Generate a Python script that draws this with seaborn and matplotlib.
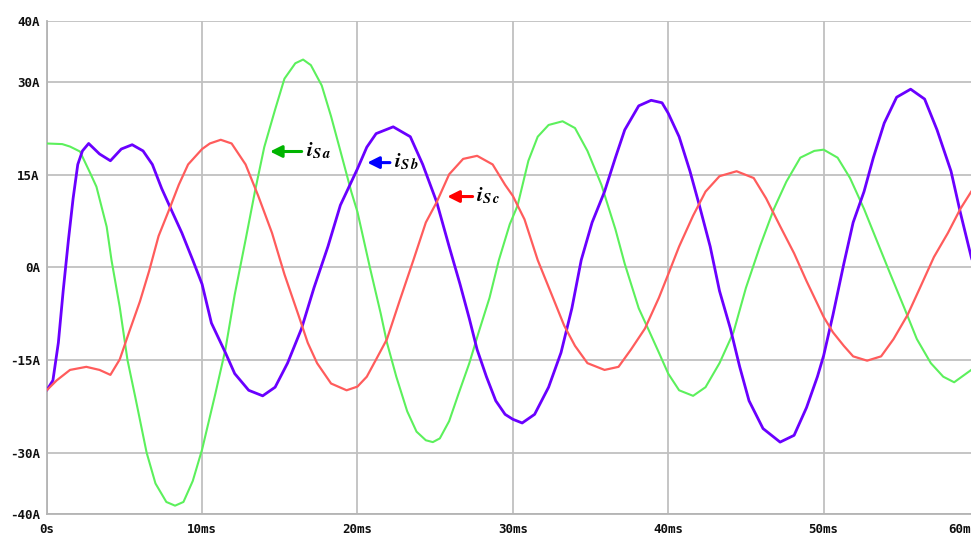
import matplotlib
matplotlib.use("Agg")
import matplotlib.pyplot as plt
import matplotlib.transforms as mtransforms
import seaborn as sns
import pandas as pd

# ---- data ----
t_a = [0.0, 1.0, 1.5, 2.14, 2.8, 3.2, 3.86, 4.17, 4.7, 5.2, 5.7, 6.43, 7.0, 7.7, 8.26, 8.8, 9.4, 10.0,
       10.85, 11.5, 12.1, 12.8, 13.4, 14.0, 14.7, 15.3, 16.0, 16.5, 17.0, 17.7, 18.3, 18.9, 19.6,
       20.0, 20.8, 21.5, 21.9, 22.5, 23.2, 23.8, 24.4, 24.85, 25.3, 25.9, 26.5, 27.2, 27.8, 28.5,
       29.1, 29.8, 30.3, 31.0, 31.6, 32.3, 33.2, 34.0, 34.8, 35.7, 36.6, 37.2, 38.1, 38.7, 39.4,
       40.0, 40.7, 41.6, 42.4, 43.3, 44.2, 45.0, 45.9, 46.8, 47.6, 48.5, 49.4, 50.0, 50.9, 51.7,
       52.6, 53.4, 54.3, 55.2, 56.0, 56.9, 57.7, 58.4, 59.5, 60.0]
i_a = [20.1, 20.0, 19.6, 18.8, 15.3, 13.1, 6.6, 1.2, -6.4, -15.0, -21.0, -30.0, -35.0, -38.0, -38.6, -38.0, -34.6, -29.5,
       -20.5, -13.3, -4.4, 4.5, 12.3, 19.5, 25.6, 30.6, 33.1, 33.7, 32.8, 29.5, 24.5, 18.9, 12.3,
       9.0, 0.0, -7.5, -12.2, -17.7, -23.3, -26.6, -28.0, -28.3, -27.7, -24.9, -20.5, -15.5, -10.5, -4.9,
       1.2, 7.0, 10.0, 17.3, 21.2, 23.1, 23.7, 22.6, 18.9, 13.4, 6.2, 0.6, -6.6, -9.9, -13.8,
       -17.2, -19.9, -20.8, -19.4, -15.5, -10.5, -3.3, 3.4, 9.5, 13.9, 17.8, 18.9, 19.1, 17.8, 14.5,
       9.5, 4.5, -1.1, -6.6, -11.6, -15.5, -17.7, -18.6, -16.6, -15.5]

t_b = [0.0, 0.4, 0.75, 1.06, 1.4, 1.7, 2.0, 2.3, 2.7, 3.4, 4.1, 4.8, 5.5, 6.2, 6.8, 7.4, 8.1, 8.7, 9.4,
       10.0, 10.6, 11.5, 12.1, 13.0, 13.9, 14.7, 15.5, 16.4, 17.2, 18.1, 18.9, 20.0,
       20.6, 21.2, 22.3, 23.4, 24.2, 25.1, 25.9, 26.6, 27.2, 27.7, 28.3, 28.9, 29.5, 30.0,
       30.6, 31.4, 32.3, 33.1, 33.8, 34.4, 35.1, 35.9, 36.6, 37.2, 38.1, 38.9, 39.6,
       40.0, 40.7, 41.4, 42.0, 42.7, 43.3, 44.0, 44.6, 45.2, 46.1, 47.2, 48.1, 48.9, 49.6,
       50.0, 50.6, 51.3, 51.9, 52.6, 53.2, 53.9, 54.7, 55.6, 56.5, 57.3, 58.2, 58.8, 59.5, 60.0]
i_b = [-19.9, -18.3, -12.2, -3.8, 4.5, 11.2, 16.7, 18.9, 20.1, 18.4, 17.3, 19.2, 19.9, 18.9, 16.7, 12.8, 8.9, 5.6, 1.2,
       -2.7, -9.0, -13.8, -17.2, -19.9, -20.8, -19.4, -15.5, -9.9, -3.3, 3.4, 10.1, 16.0,
       19.5, 21.7, 22.8, 21.2, 16.7, 10.6, 3.4, -2.7, -8.3, -13.3, -17.7, -21.6, -23.8, -24.6,
       -25.2, -23.8, -19.4, -13.8, -6.6, 1.2, 7.3, 12.3, 17.8, 22.3, 26.2, 27.1, 26.7,
       25.0, 21.2, 15.6, 10.1, 3.4, -3.8, -9.9, -16.1, -21.6, -26.1, -28.3, -27.2, -22.7, -17.7,
       -14.3, -7.7, 0.6, 7.3, 12.3, 17.8, 23.4, 27.6, 28.9, 27.3, 22.3, 15.6, 8.9, 1.7, -2.5]

t_c = [0.0, 0.64, 1.5, 2.55, 3.4, 4.1, 4.7, 5.3, 6.0, 6.6, 7.2, 7.9, 8.5, 9.1, 10.0,
       10.5, 11.2, 11.9, 12.8, 13.6, 14.5, 15.3, 16.2, 16.8, 17.4, 18.3, 19.3, 20.0,
       20.6, 21.2, 21.9, 22.7, 23.6, 24.4, 25.1, 25.9, 26.8, 27.7, 28.7, 29.5, 30.0,
       30.75, 31.6, 32.5, 33.3, 34.0, 34.8, 35.9, 36.8, 37.6, 38.5, 39.4, 40.0,
       40.7, 41.6, 42.4, 43.3, 44.4, 45.5, 46.3, 47.2, 48.1, 48.9, 50.0,
       50.6, 51.3, 51.9, 52.8, 53.7, 54.5, 55.4, 56.2, 57.1, 58.0, 58.8, 59.5, 60.0]
i_c = [-19.9, -18.3, -16.6, -16.1, -16.6, -17.4, -14.9, -10.5, -5.5, -0.5, 5.1, 9.5, 13.4, 16.7, 19.2,
       20.1, 20.7, 20.1, 16.7, 11.7, 5.6, -1.1, -7.7, -12.2, -15.5, -18.8, -19.9, -19.3,
       -17.7, -14.9, -11.6, -5.5, 1.2, 7.3, 10.6, 15.1, 17.6, 18.1, 16.7, 13.4, 11.6,
       7.8, 1.2, -4.4, -9.4, -12.7, -15.5, -16.6, -16.1, -13.3, -9.9, -4.9, -1.1,
       3.4, 8.4, 12.3, 14.8, 15.6, 14.5, 11.2, 6.7, 2.3, -2.2, -8.0,
       -10.5, -12.7, -14.4, -15.1, -14.4, -11.6, -7.7, -3.3, 1.7, 5.6, 9.5, 12.3, 14.0]

y_ticks = [40, 30, 15, 0, -15, -30, -40]
y_labels = ["40A", "30A", "15A", "0A", "-15A", "-30A", "-40A"]
x_ticks = [0, 10, 20, 30, 40, 50, 60]
x_labels = ["0s", "10ms", "20ms", "30ms", "40ms", "50ms", "60ms"]

names = ["Sa", "Sb", "Sc"]
line_colors = ["#5cf05c", "#6a00ff", "#ff5c5c"]
arrow_colors = ["#00b400", "#0000ff", "#ff0000"]
# label anchors (arrow tip / arrow tail) in data units
lab_tip = [(14.37, 18.8), (20.63, 17.0), (25.78, 11.5)]
lab_tail = [16.41, 22.09, 27.41]

df = pd.concat([
    pd.DataFrame({"t": t_a, "i": i_a, "s": "Sa"}),
    pd.DataFrame({"t": t_b, "i": i_b, "s": "Sb"}),
    pd.DataFrame({"t": t_c, "i": i_c, "s": "Sc"}),
])

sns.set_style("white")
plt.rcParams["mathtext.fontset"] = "stix"

fig = plt.figure(figsize=(9.71, 5.36), dpi=100)
W, H = 971, 536
x0, x1 = 46.7, 979.0
ytop, ybot = 20.7, 514.3
ax = fig.add_axes([x0 / W, 1 - ybot / H, (x1 - x0) / W, (ybot - ytop) / H])

for s, c, lw in zip(names, line_colors, [1.5, 2.0, 1.6]):
    sns.lineplot(data=df[df.s == s], x="t", y="i", ax=ax, color=c, lw=lw,
                 sort=False, estimator=None, legend=False, zorder=3)

ax.set_xlim(0, 60)
ax.set_ylim(-40, 40)
ax.set_yticks(y_ticks)
ax.set_yticklabels(y_labels)
ax.set_xticks(x_ticks)
ax.set_xticklabels(x_labels)
ax.set_xlabel("")
ax.set_ylabel("")
ax.grid(True, color="#c0c0c0", lw=1.3, zorder=0)
ax.set_axisbelow(True)
for sp in ["top", "right"]:
    ax.spines[sp].set_visible(False)
for sp in ["left", "bottom"]:
    ax.spines[sp].set_color("#b4b4b4")
    ax.spines[sp].set_linewidth(1.3)
ax.tick_params(length=0)
for lab in ax.get_yticklabels() + ax.get_xticklabels():
    lab.set_fontfamily("DejaVu Sans Mono")
    lab.set_fontweight("bold")
    lab.set_fontsize(9)
    lab.set_color("#101010")
ax.tick_params(axis="y", pad=5)
ax.tick_params(axis="x", pad=6)
# last x label is pushed left to fit in the window, as in the reference
last = ax.get_xticklabels()[-1]
last.set_transform(last.get_transform() +
                   mtransforms.ScaledTranslation(-16 / 100, 0, fig.dpi_scale_trans))

for s, ac, tip, tail in zip(names, arrow_colors, lab_tip, lab_tail):
    ax.annotate("", xy=tip, xytext=(tail, tip[1]),
                arrowprops=dict(arrowstyle="-|>,head_length=0.7,head_width=0.35",
                                color=ac, lw=2.2, shrinkA=0, shrinkB=0), zorder=5)
    ax.text(tail + 0.25, tip[1] + 0.2,
            r"$\mathbfit{i}_{\mathbfit{" + s[0] + r"\,}\mathbfit{" + s[1] + r"}}$",
            fontsize=15, color="black", va="center", ha="left", zorder=5)

fig.savefig("out.png", dpi=100)
